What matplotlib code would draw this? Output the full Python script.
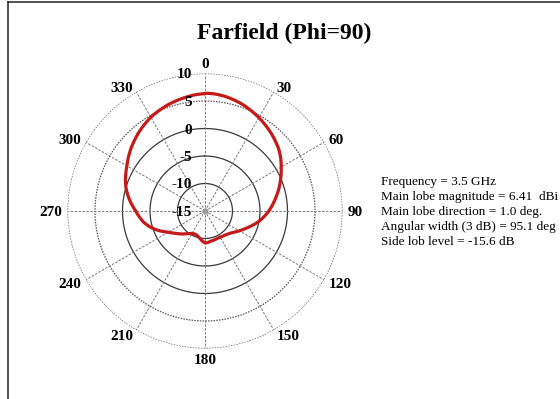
import numpy as np
import matplotlib
matplotlib.use("Agg")
import matplotlib.pyplot as plt
from matplotlib.lines import Line2D

# Farfield cut, Phi = 90: gain in dBi versus theta in degrees
theta_deg = [0, 1, 5, 10, 15, 20, 25, 30, 35, 40, 45, 50, 55, 60, 65, 70, 75,
             80, 85, 90, 95, 100, 105, 110, 115, 120, 125, 130, 135, 140, 145,
             150, 155, 160, 165, 170, 175, 180, 185, 190, 195, 200, 205, 210,
             215, 220, 225, 230, 235, 240, 245, 250, 255, 260, 265, 270, 275,
             280, 285, 290, 295, 300, 305, 310, 315, 320, 325, 330, 335, 340,
             345, 350, 355, 360]
gain_dbi = [6.35, 6.41, 6.35, 6.15, 5.85, 5.5, 5.05, 4.6, 4.1, 3.6, 3.05, 2.5,
            1.8, 1.0, 0.25, -0.5, -1.25, -2.0, -2.7, -3.4, -4.15, -4.9, -5.7,
            -6.5, -7.2, -7.8, -8.35, -8.8, -9.1, -9.3, -9.4, -9.5, -9.55, -9.5,
            -9.45, -9.4, -9.25, -9.2, -9.5, -9.9, -10.2, -10.4, -10.4, -10.3,
            -10.0, -9.6, -9.1, -8.6, -8.0, -7.3, -6.3, -5.3, -4.4, -3.6, -3.0,
            -2.4, -1.65, -0.9, -0.2, 0.4, 0.9, 1.4, 2.0, 2.6, 3.15, 3.7, 4.2,
            4.7, 5.05, 5.4, 5.7, 5.95, 6.2, 6.35]

ring_levels = [-10, -5, 0, 5, 10]
solid_rings = [-10, -5, 0]
radial_labels = ["10", "5", "0", "-5", "-10", "-15"]
radial_values = [10, 5, 0, -5, -10, -15]
angle_ticks = [0, 30, 60, 90, 120, 150, 180, 210, 240, 270, 300, 330]

title = "Farfield (Phi=90)"
info_lines = [
    "Frequency = 3.5 GHz",
    "Main lobe magnitude = 6.41  dBi",
    "Main lobe direction = 1.0 deg.",
    "Angular width (3 dB) = 95.1 deg",
    "Side lob level = -15.6 dB",
]

R_MIN, R_MAX = -15, 10
serif = ["Liberation Serif", "DejaVu Serif"]

fig = plt.figure(figsize=(5.6, 3.99), dpi=100)
fig.patch.set_facecolor("white")

# window frame lines (left and top)
fig.add_artist(Line2D([7.5 / 560, 7.5 / 560], [0, 1 - 1.5 / 399],
                      transform=fig.transFigure, color="#222222", lw=1.1))
fig.add_artist(Line2D([7.5 / 560, 1], [1 - 1.5 / 399, 1 - 1.5 / 399],
                      transform=fig.transFigure, color="#222222", lw=1.1))

cx, cy, rad = 205.0, 211.0, 137.5
ax = fig.add_axes([(cx - rad) / 560, (399 - cy - rad) / 399,
                   2 * rad / 560, 2 * rad / 399], projection="polar")
ax.set_theta_zero_location("N")
ax.set_theta_direction(-1)
ax.set_ylim(R_MIN, R_MAX)
ax.grid(False)
ax.set_xticks([])
ax.set_yticks([])
ax.spines["polar"].set_visible(False)
ax.patch.set_alpha(0)

full = np.linspace(0, 2 * np.pi, 721)
for lev in ring_levels:
    if lev in solid_rings:
        ax.plot(full, np.full_like(full, lev), color="#3a3a3a", lw=0.9)
    else:
        ax.plot(full, np.full_like(full, lev), color="#555555", lw=0.9,
                linestyle=(0, (1.2, 1.0)))

for a in angle_ticks:
    t = np.deg2rad(a)
    ax.plot([t, t], [R_MIN, R_MAX], color="#777777", lw=0.7,
            linestyle=(0, (2.5, 1.5)))

# gain pattern, drawn as arcs between samples in polar space
pattern, = ax.plot(np.deg2rad(theta_deg), gain_dbi, color="#c41a1a", lw=2.3,
                   solid_joinstyle="round", zorder=5)
pattern.get_path()._interpolation_steps = 20

# centre marker
ax.plot([0], [R_MIN], marker="o", ms=3.5, color="#999999", zorder=6)

# angle labels anchored just outside the outer ring
label_r = 11.0
for a in angle_ticks:
    s = np.sin(np.deg2rad(a))
    if abs(s) < 1e-6:
        ha = "center"
        va = "baseline" if a == 0 else "top"
    else:
        ha = "left" if s > 0 else "right"
        va = "center_baseline"
    ax.text(np.deg2rad(a), label_r, str(a), ha=ha, va=va,
            fontsize=11, fontweight="bold", family=serif, clip_on=False)

# radial level labels along the 0 degree line
for lab, val in zip(radial_labels, radial_values):
    y_px = cy - (val - R_MIN) / (R_MAX - R_MIN) * rad
    fig.text(192 / 560, 1 - y_px / 399, lab, ha="right",
             va="center_baseline", fontsize=11, fontweight="bold",
             family=serif)

fig.text(284 / 560, 1 - 31 / 399, title, ha="center", va="center_baseline",
         fontsize=17, fontweight="bold", family=serif)

for i, line in enumerate(info_lines):
    fig.text(381 / 560, 1 - (185 + 15 * i) / 399, line, ha="left",
             va="baseline", fontsize=9.5, family=serif)

fig.savefig("out.png", dpi=100, facecolor="white")
